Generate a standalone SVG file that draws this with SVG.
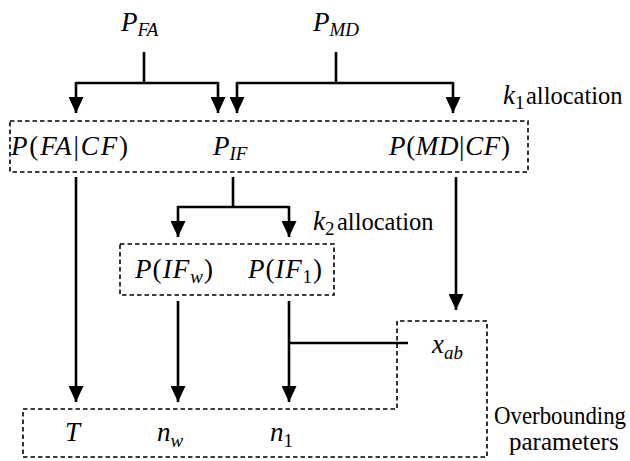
<svg xmlns="http://www.w3.org/2000/svg" width="630" height="461" viewBox="0 0 630 461">
<defs>
<style>
.f{font-family:"Liberation Serif","Times New Roman",serif;fill:#000}
.m{font-style:italic;font-size:27px}
.u{font-style:normal}
.s{font-size:19px}
.t{font-size:25px}
.box{fill:none;stroke:#000;stroke-width:1.6;stroke-dasharray:4.5 3}
.c{fill:none;stroke:#000;stroke-width:2.6}
.a{marker-end:url(#arr)}
</style>
<marker id="arr" viewBox="0 0 16 15" refX="16" refY="7.5" markerWidth="16" markerHeight="15" markerUnits="userSpaceOnUse" orient="auto">
<path d="M0,0 L16,7.5 L0,15 Z" fill="#000"/>
</marker>
</defs>
<rect width="630" height="461" fill="#fff"/>
<g class="f">
<g id="pfa"><text class="m" x="121" y="31">P<tspan class="s" dy="5">FA</tspan></text></g>
<g id="pmd"><text class="m" x="313" y="31">P<tspan class="s" dy="5">MD</tspan></text></g>
<g id="k1"><text class="t" x="503" y="104"><tspan class="m" font-size="26">k</tspan><tspan class="s" dy="5">1</tspan><tspan x="526" dy="-5" font-size="24.5">allocation</tspan></text></g>
<g id="alloc1">
<rect class="box" x="10" y="121" width="518" height="51"/>
<text class="m" x="11" y="155" textLength="117" lengthAdjust="spacing">P<tspan class="u">(</tspan>FA<tspan class="u">|</tspan>CF<tspan class="u">)</tspan></text>
<text class="m" x="213" y="155">P<tspan class="s" dy="5">IF</tspan></text>
<text class="m" x="389" y="155" textLength="121" lengthAdjust="spacing">P<tspan class="u">(</tspan>MD<tspan class="u">|</tspan>CF<tspan class="u">)</tspan></text>
</g>
<g id="k2"><text class="t" x="313" y="230"><tspan class="m" font-size="26">k</tspan><tspan class="s" dy="5">2</tspan><tspan x="337" dy="-5" font-size="24.5">allocation</tspan></text></g>
<g id="alloc2">
<rect class="box" x="120" y="244" width="214" height="51"/>
<text class="m" x="135" y="278" textLength="78" lengthAdjust="spacing">P<tspan class="u">(</tspan>IF<tspan class="s" dy="5">w</tspan><tspan class="u" dy="-5">)</tspan></text>
<text class="m" x="248" y="278" textLength="74" lengthAdjust="spacing">P<tspan class="u">(</tspan>IF<tspan class="s u" dy="5">1</tspan><tspan class="u" dy="-5">)</tspan></text>
</g>
<g id="params">
<path class="box" d="M23,409 H397 V321 H487 V457 H23 Z"/>
<text class="m" x="432" y="353" font-size="29">x<tspan class="s" font-size="20" dy="6">ab</tspan></text>
<text class="m" x="65" y="441">T</text>
<text class="m" x="157" y="441" font-size="28">n<tspan class="s" font-size="20" dy="6">w</tspan></text>
<text class="m" x="270" y="441" font-size="28">n<tspan class="s u" font-size="20" dy="6">1</tspan></text>
<text class="t" x="494" y="424" font-size="21.5" textLength="132" lengthAdjust="spacingAndGlyphs">Overbounding</text>
<text class="t" x="509" y="450" font-size="24">parameters</text>
</g>
</g>
<g id="connectors">
<path class="c" d="M144,52 V83 M76,83 H218 M336,52 V83 M237,83 H453 M233,177 V207 M178,207 H289 M289,343 H408"/>
<path class="c a" d="M76,82 V113"/>
<path class="c a" d="M218,82 V113"/>
<path class="c a" d="M237,82 V113"/>
<path class="c a" d="M453,82 V113"/>
<path class="c a" d="M178,206 V237"/>
<path class="c a" d="M289,206 V237"/>
<path class="c a" d="M76,177 V402"/>
<path class="c a" d="M456,177 V310"/>
<path class="c a" d="M178,301 V402"/>
<path class="c a" d="M289,301 V402"/>
</g>
</svg>
